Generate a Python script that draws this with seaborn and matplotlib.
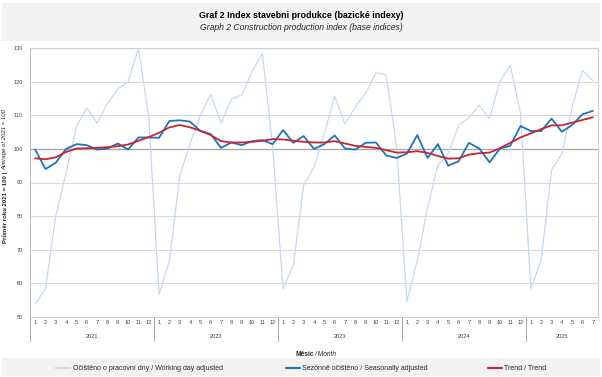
import numpy as np
import pandas as pd
import matplotlib
matplotlib.use("Agg")
import matplotlib.pyplot as plt
import seaborn as sns
from matplotlib.lines import Line2D
from matplotlib.patches import Rectangle

# ---------------- data ----------------
years = ["2021", "2022", "2023", "2024", "2025"]
months_per_year = [12, 12, 12, 12, 7]

working_day = [53.9, 58.4, 80.2, 93.0, 106.6, 112.3, 107.6, 113.5, 117.8, 120.0, 130.0, 109.5,
               56.7, 66.8, 92.0, 101.6, 110.0, 116.3, 107.6, 114.8, 116.0, 123.0, 128.4, 100.5,
               58.4, 65.4, 89.2, 94.5, 104.6, 115.7, 107.4, 112.5, 116.5, 122.6, 121.9, 100.6,
               54.7, 66.8, 82.7, 95.1, 98.6, 107.0, 109.3, 112.9, 109.0, 120.0, 124.9, 110.5,
               58.4, 67.0, 93.7, 98.6, 112.5, 123.4, 120.3]
seasonal = [99.8, 94.0, 95.9, 100.0, 101.4, 101.1, 99.8, 100.1, 101.6, 99.8, 103.4, 103.4,
            103.3, 108.3, 108.5, 108.1, 105.3, 104.4, 100.3, 101.9, 101.1, 102.3, 102.6, 101.4,
            105.6, 101.8, 103.8, 100.0, 101.4, 104.0, 100.1, 99.8, 101.8, 101.9, 98.0, 97.3,
            98.6, 104.1, 97.3, 101.4, 95.0, 96.3, 101.8, 100.1, 96.0, 100.1, 100.9, 106.8,
            105.3, 105.3, 109.0, 105.1, 107.1, 110.3, 111.3]
trend = [97.2, 96.9, 97.5, 99.1, 100.1, 100.2, 100.3, 100.5, 100.8, 101.3, 102.4, 103.5,
         104.8, 106.4, 107.1, 106.4, 105.4, 104.1, 102.3, 101.9, 101.9, 102.1, 102.4, 102.9,
         102.8, 102.4, 102.1, 101.9, 101.9, 102.3, 101.6, 100.9, 100.6, 100.3, 99.6, 98.9,
         99.0, 99.3, 98.8, 97.9, 97.1, 97.2, 98.3, 98.7, 98.9, 100.2, 101.8, 103.4,
         104.6, 105.9, 107.0, 107.0, 107.8, 108.6, 109.4]

y_ticks = [50, 60, 70, 80, 90, 100, 110, 120, 130]
series_names = ["Očištěno o pracovní dny / Working day adjusted",
                "Sezónně očištěno / Seasonally adjusted",
                "Trend / Trend"]
colors = ["#c6d9f1", "#1b75bc", "#c9242f"]
widths = [0.9, 1.3, 1.3]

# ---------------- setup ----------------
sns.set_style("white")
plt.rcParams['font.family'] = ['Liberation Sans', 'DejaVu Sans']

month_labels = [str(m) for n in months_per_year for m in range(1, n + 1)]
idx = np.arange(len(month_labels))
df = pd.DataFrame({"idx": idx, series_names[0]: working_day,
                   series_names[1]: seasonal, series_names[2]: trend})

W, H = 602, 377
fig = plt.figure(figsize=(W / 100, H / 100), dpi=100)
fig.patch.set_facecolor("white")


def fx(px):
    return px / W


def fy(py):
    return 1 - py / H


# gray bands
fig.patches.append(Rectangle((fx(2), fy(41)), fx(598), fy(3) - fy(41), transform=fig.transFigure,
                             facecolor="#f2f2f2", edgecolor="none", zorder=0))
fig.patches.append(Rectangle((fx(2), fy(376)), fx(598), fy(358) - fy(376), transform=fig.transFigure,
                             facecolor="#f2f2f2", edgecolor="none", zorder=0))

ax = fig.add_axes([fx(30), fy(317), fx(598) - fx(30), fy(48) - fy(317)])
ax.set_facecolor("white")

for name, c, lw in zip(series_names, colors, widths):
    sns.lineplot(data=df, x="idx", y=name, ax=ax, color=c, linewidth=lw, legend=False, zorder=3)

ax.set_xlim(-0.5, len(idx) - 0.5)
ax.set_ylim(50, 130)
ax.set_yticks(y_ticks)
ax.set_yticklabels([str(v) for v in y_ticks])
ax.set_xticks(idx)
ax.set_xticklabels(month_labels)
ax.yaxis.grid(True, color="#d9d9d9", linewidth=0.8)
ax.xaxis.grid(False)
ax.set_axisbelow(True)
ax.axhline(100, color="#a6a6a6", linewidth=0.9, zorder=2)
ax.tick_params(axis='y', length=0, labelsize=4.1, labelcolor="#404040", pad=5)
ax.tick_params(axis='x', length=0, labelsize=4.1, labelcolor="#404040", pad=2.5)
ax.set_xlabel("")
ax.set_ylabel("")
for s in ["left", "right", "top", "bottom"]:
    ax.spines[s].set_color("#d0d0d0")
    ax.spines[s].set_linewidth(0.8)
ax.spines["left"].set_color("#bfbfbf")

# year separators and labels
axes_h = 317 - 48
bounds = [-0.5]
start = 0
for n in months_per_year:
    start += n
    bounds.append(start - 0.5)
for b in bounds[:-1]:
    ax.plot([b, b], [0, -(341 - 317) / axes_h], transform=ax.get_xaxis_transform(),
            color="#a6a6a6", linewidth=0.7, clip_on=False)
for i, yr in enumerate(years):
    c = (bounds[i] + bounds[i + 1]) / 2
    ax.text(c, -(336 - 317) / axes_h, yr, transform=ax.get_xaxis_transform(),
            ha="center", va="center", fontsize=4.1, color="#404040")

# titles
fig.text(0.5, fy(16), "Graf 2 Index stavebni produkce (bazické indexy)", ha="center", va="center",
         fontsize=6.4, fontweight="bold", color="#000000")
fig.text(0.5, fy(28), "Graph 2 Construction production index (base indices)", ha="center", va="center",
         fontsize=6.2, fontstyle="italic", color="#262626")

renderer = fig.canvas.get_renderer()


def mixed_h(parts, xc, yc, size, color, gap):
    texts, ws = [], []
    for s, w, st in parts:
        t = fig.text(0, fy(yc), s, fontsize=size, fontweight=w, fontstyle=st, color=color,
                     ha="left", va="center")
        ws.append(t.get_window_extent(renderer).width)
        texts.append(t)
    total = sum(ws) + gap * (len(parts) - 1)
    x0 = xc - total / 2
    for t, w in zip(texts, ws):
        t.set_x(x0 / W)
        x0 += w + gap


def mixed_v(parts, xc, yc, size, color, gap):
    texts, hs = [], []
    for s, w, st in parts:
        t = fig.text(fx(xc), 0, s, fontsize=size, fontweight=w, fontstyle=st, color=color,
                     ha="center", va="bottom", rotation=90)
        hs.append(t.get_window_extent(renderer).height)
        texts.append(t)
    total = sum(hs) + gap * (len(parts) - 1)
    y0 = (H - yc) - total / 2  # in pixels from bottom
    for t, h in zip(texts, hs):
        t.set_y(y0 / H)
        y0 += h + gap


mixed_h([("Měsíc", "bold", "normal"), ("/ Month", "normal", "italic")], 316, 354, 4.8, "#262626", 1.2)
mixed_v([("Průměr roku 2021 = 100 |", "bold", "normal"), ("Average of 2021 = 100", "normal", "italic")],
        5, 176, 4.3, "#262626", 1.2)

# legend
leg_y = 368
leg_items = [(55, 70, 73), (286, 300, 302), (488, 502, 504)]
for (x1, x2, xt), name, c, lw in zip(leg_items, series_names, colors, widths):
    fig.add_artist(Line2D([fx(x1), fx(x2)], [fy(leg_y), fy(leg_y)], transform=fig.transFigure,
                          color=c, linewidth=lw + 0.2))
    fig.text(fx(xt), fy(leg_y), name, ha="left", va="center", fontsize=5.0, color="#262626")

fig.savefig("out.png", dpi=100, facecolor="white")
